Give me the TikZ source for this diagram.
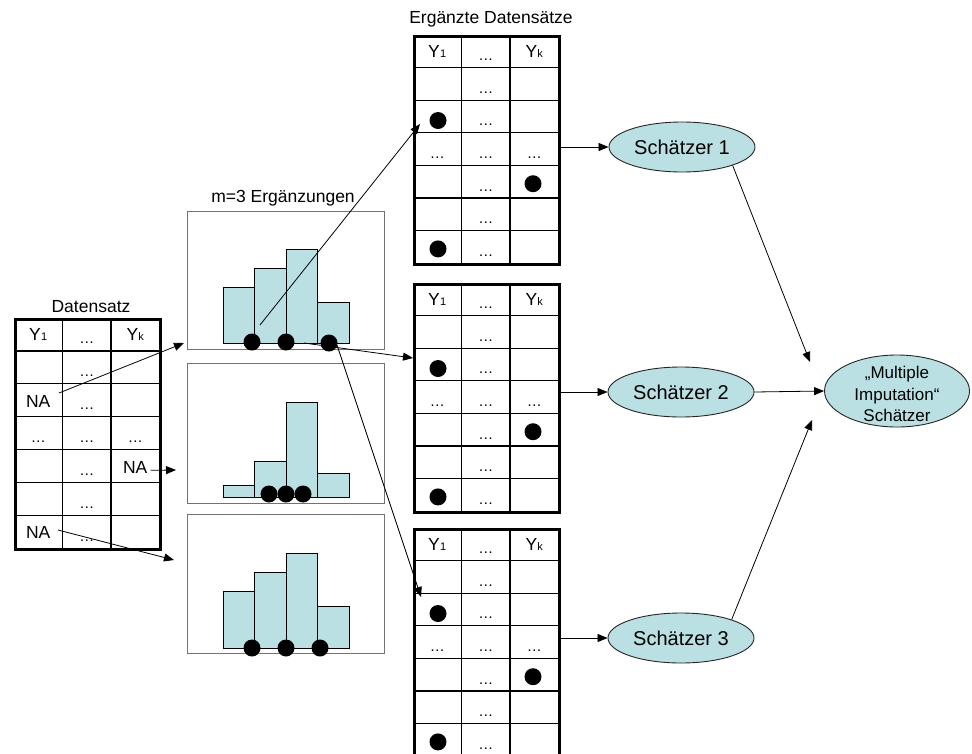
\documentclass[tikz,border=0pt]{standalone}
\usepackage{fontspec}
\setmainfont{Liberation Sans}
\usetikzlibrary{shapes.geometric,arrows.meta,calc}
\definecolor{barblue}{RGB}{186,224,228}
\newcommand\yy[1]{Y\kern0.3pt{\fontsize{11}{11}\selectfont #1}}
\newcommand\tabgrid[4]{%
  \foreach \i in {1,...,6}{\draw[innerline] (#2,#3+\i*#4) -- (#2+145,#3+\i*#4);}
  \draw[innerline] (#2+48.5,#3) -- (#2+48.5,#3+7*#4);
  \draw[innerline] (#2+97,#3) -- (#2+97,#3+7*#4);
  \node[tabframe, minimum width=145pt, minimum height=7*#4pt, anchor=north west] (#1) at (#2,#3) {};
  \node[cell] (#1-h1) at (#2+24.25,#3+0.5*#4) {\yy{1}};
  \node[cell] (#1-h3) at (#2+121.25,#3+0.5*#4) {\yy{k}};
  \foreach \r in {1,...,7}{\node[elli] at (#2+72.75,#3+\r*#4-7) {…};}
  \node[elli] at (#2+24.25,#3+4*#4-7) {…};
  \node[elli] at (#2+121.25,#3+4*#4-7) {…};
}
\begin{document}
\begin{tikzpicture}[x=1pt,y=-1pt,
  innerline/.style={line width=1.3pt},
  tabframe/.style={draw, line width=3pt, inner sep=0pt},
  cell/.style={inner sep=0pt, font=\fontsize{17.5}{18}\selectfont},
  elli/.style={inner sep=0pt, anchor=base, font=\fontsize{15}{15}\selectfont},
  ttl/.style={inner sep=0pt, font=\fontsize{17.5}{18}\selectfont},
  bar/.style={fill=barblue, draw=black, line width=0.9pt},
  histbox/.style={draw=black!55, line width=1.1pt, inner sep=0pt},
  blob/.style={circle, fill=black, minimum size=17pt, inner sep=0pt},
  arr/.style={-{Triangle[length=10pt,width=8pt]}, line width=0.8pt},
  est/.style={ellipse, draw=black!85, fill=barblue, line width=0.9pt, inner sep=0pt, font=\fontsize{20}{20}\selectfont}
]
\useasboundingbox (0,0) rectangle (972,753);

% ---------- titles ----------
\node[ttl] (tL) at (91,307) {Datensatz};
\node[ttl] (tH) at (283,198) {m=3 Ergänzungen};
\node[ttl] (tR) at (491,19) {Ergänzte Datensätze};

% ---------- left table ----------
\tabgrid{L}{14}{318}{32.86}
\node[cell] (na1) at (38.25,401.6) {NA};
\node[cell] (na2) at (135.25,467.3) {NA};
\node[cell] (na3) at (38.25,532.9) {NA};

% ---------- right tables ----------
\tabgrid{A}{413}{35}{32.6}
\tabgrid{B}{413}{283}{32.6}
\tabgrid{C}{413}{528}{32.6}
\foreach \t/\y in {A/35,B/283,C/528}{
  \node[blob] (\t-d1) at (438,\y+2.5*32.6+4) {};
  \node[blob] (\t-d2) at (533,\y+4.5*32.6+2) {};
  \node[blob] (\t-d3) at (438,\y+6.5*32.6+2) {};
}

% ---------- histograms ----------
\node[histbox, minimum width=197pt, minimum height=138pt, anchor=north west] (H1) at (187,211) {};
\node[histbox, minimum width=197pt, minimum height=140pt, anchor=north west] (H2) at (187,363) {};
\node[histbox, minimum width=197pt, minimum height=139pt, anchor=north west] (H3) at (187,514) {};

\draw[bar] (223,343) rectangle (254,287);
\draw[bar] (254,343) rectangle (286,268);
\draw[bar] (286,343) rectangle (317,249);
\draw[bar] (317,343) rectangle (349,302);

\draw[bar] (223,497) rectangle (254,485);
\draw[bar] (254,497) rectangle (286,461);
\draw[bar] (286,497) rectangle (317,402);
\draw[bar] (317,497) rectangle (349,473);

\draw[bar] (223,648) rectangle (254,591);
\draw[bar] (254,648) rectangle (286,572);
\draw[bar] (286,648) rectangle (317,553);
\draw[bar] (317,648) rectangle (349,606);

\node[blob] (p11) at (252,342) {};
\node[blob] (p12) at (286,342) {};
\node[blob] (p13) at (329,343) {};
\node[blob] (p21) at (269,494) {};
\node[blob] (p22) at (286,494) {};
\node[blob] (p23) at (303,494) {};
\node[blob] (p31) at (252,648) {};
\node[blob] (p32) at (286,648) {};
\node[blob] (p33) at (320,648) {};

% ---------- estimators ----------
\node[est, minimum width=146pt, minimum height=50pt] (E1) at (682,147) {Schätzer 1};
\node[est, minimum width=146pt, minimum height=50pt] (E2) at (681,392) {Schätzer 2};
\node[est, minimum width=146pt, minimum height=50pt] (E3) at (681,638) {Schätzer 3};
\node[est, minimum width=145pt, minimum height=72pt] (M) at (897,391) {};
\node[inner sep=0pt, align=center, font=\fontsize{17}{21.5}\selectfont] (Mt) at (897,394) {„Multiple\\Imputation“\\Schätzer};

% ---------- connectors ----------
\coordinate (s1) at (59,393);
\coordinate (h1in) at (184,343);
\draw[arr] (s1) -- (h1in);
\coordinate (h2in) at (176,470);
\draw[arr] (na2.east) ++(3,3) -- (h2in);
\coordinate (s3) at (58,530);
\coordinate (h3in) at (174,560);
\draw[arr] (s3) -- (h3in);

\coordinate (q1) at (260,325);
\coordinate (a3in) at (420,124);
\draw[arr] (q1) -- (a3in);
\coordinate (q2) at (304,343);
\coordinate (b3in) at (413,358);
\draw[arr] (q2) -- (b3in);
\coordinate (q3) at (337,345);
\coordinate (c3in) at (421,597);
\draw[arr] (q3) -- (c3in);

\draw[arr] (A.east |- E1.west) -- (E1.west);
\draw[arr] (B.east |- E2.west) -- (E2.west);
\draw[arr] (C.east |- E3.west) -- (E3.west);

\coordinate (m1) at (810,362);
\coordinate (m3) at (812,420);
\draw[arr] (E1.-20) -- (m1);
\draw[arr] (E2.east) -- (M.west);
\draw[arr] (E3.20) -- (m3);
\end{tikzpicture}
\end{document}
